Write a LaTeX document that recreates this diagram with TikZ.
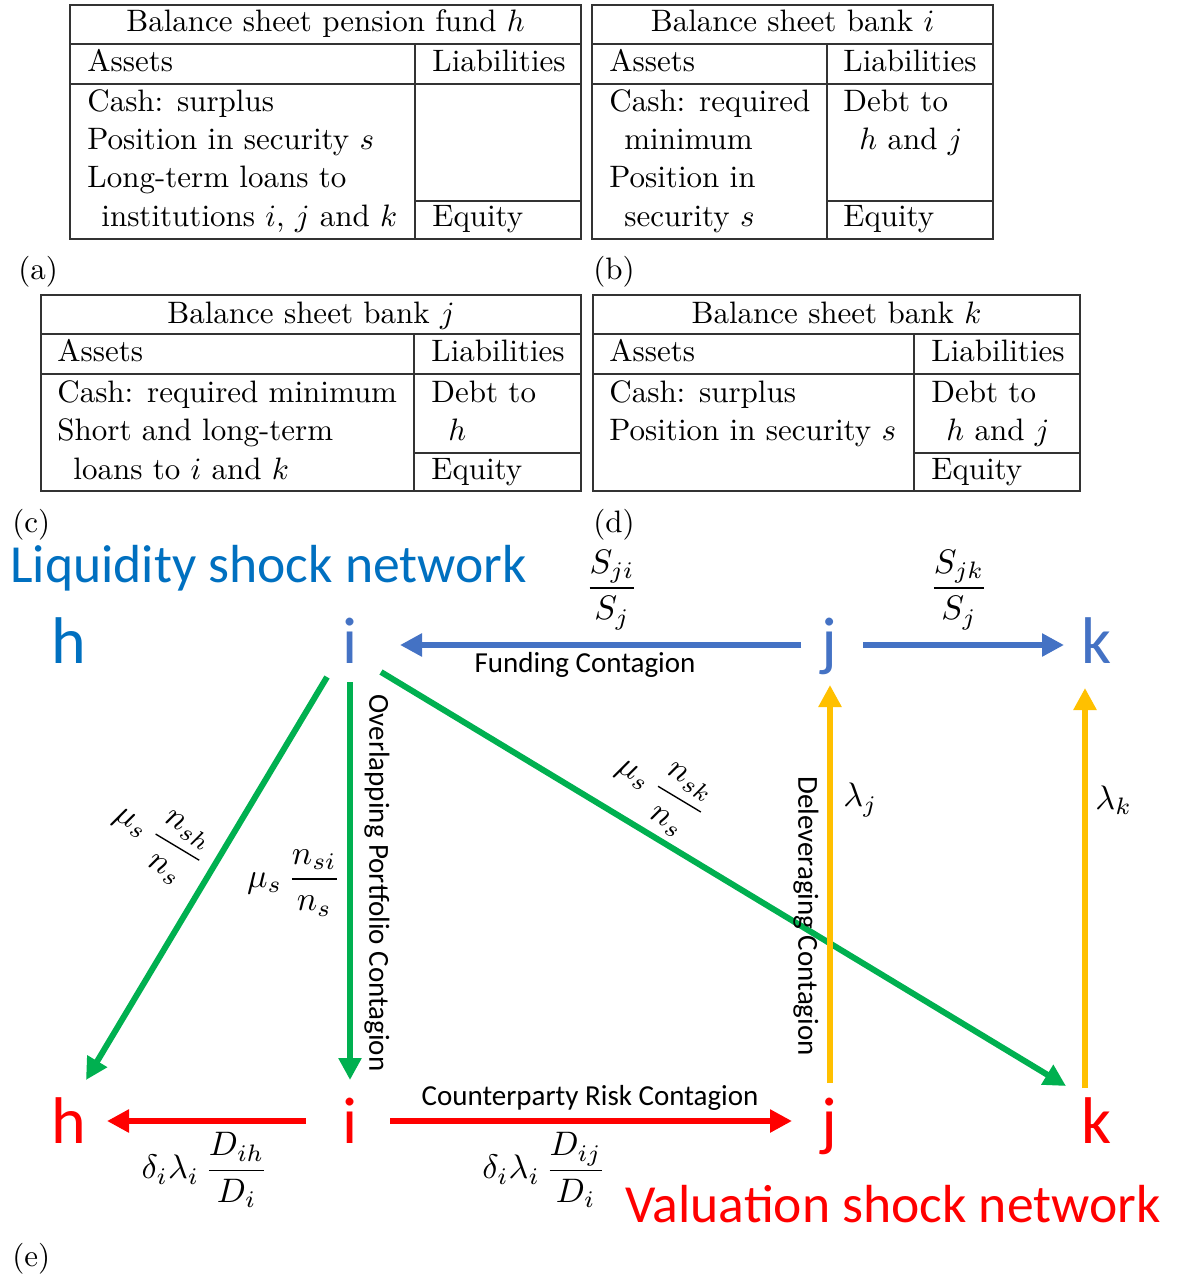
\documentclass[tikz,border=0pt]{standalone}
\usepackage{graphicx}
\usepackage{fontspec}
\newfontfamily\calfont{Carlito}
\usetikzlibrary{arrows.meta,calc}
\definecolor{lqblue}{HTML}{0070C0}
\definecolor{nodeblue}{HTML}{4472C4}
\definecolor{grn}{HTML}{00B050}
\definecolor{orng}{HTML}{FFC000}
\definecolor{rd}{HTML}{FF0000}
\newcommand{\tb}[1]{\scalebox{1.55}{#1}}
\newcommand{\mth}[1]{\scalebox{1.7}{$\displaystyle #1$}}
\newcommand{\bigletter}{\calfont\fontsize{33}{40}\selectfont}
\newcommand{\nettitle}{\calfont\fontsize{26.8}{32}\selectfont}
\newcommand{\edgefont}{\calfont\fontsize{14.5}{17}\selectfont}
\begin{document}
\begin{tikzpicture}[x=0.5pt,y=-0.5pt,
  tblline/.style={draw=black!80, line width=0.7pt},
  tt/.style={anchor=base west, inner sep=0pt, font=\normalsize},
  ttc/.style={anchor=base, inner sep=0pt, font=\normalsize},
  letter/.style={anchor=base, inner sep=0pt, font=\bigletter},
  arr/.style={line width=3pt, -{Triangle[length=11pt,width=11pt]}},
  edgetxt/.style={inner sep=0pt, font=\edgefont},
  mathlbl/.style={inner sep=0pt, font=\normalsize}]
\useasboundingbox (0,0) rectangle (1178,1278);

% ---------- Table (a)
\draw[tblline] (70,5) rectangle (581,239);
\draw[tblline] (70,44) -- (581,44) (70,84) -- (581,84) (415,44) -- (415,239) (415,201) -- (581,201);
\node[ttc] (aT) at (325.5,32) {\tb{Balance sheet pension fund $h$}};
\node[tt] (aA) at (87,72) {\tb{Assets}};
\node[tt] (aL) at (432,72) {\tb{Liabilities}};
\node[tt] (a1) at (87,112) {\tb{Cash: surplus}};
\node[tt] (a2) at (87,150) {\tb{Position in security $s$}};
\node[tt] (a3) at (87,188) {\tb{Long-term loans to}};
\node[tt] (a4) at (101,227) {\tb{institutions $i$, $j$ and $k$}};
\node[tt] (aE) at (432,227) {\tb{Equity}};
\node[tt] (la) at (18,280) {\tb{(a)}};

% ---------- Table (b)
\draw[tblline] (592,5) rectangle (993,239);
\draw[tblline] (592,44) -- (993,44) (592,84) -- (993,84) (827,44) -- (827,239) (827,201) -- (993,201);
\node[ttc] (bT) at (792.5,32) {\tb{Balance sheet bank $i$}};
\node[tt] (bA) at (609,72) {\tb{Assets}};
\node[tt] (bL) at (843,72) {\tb{Liabilities}};
\node[tt] (b1) at (609,112) {\tb{Cash: required}};
\node[tt] (b2) at (624,150) {\tb{minimum}};
\node[tt] (b3) at (609,188) {\tb{Position in}};
\node[tt] (b4) at (624,227) {\tb{security $s$}};
\node[tt] (b5) at (843,112) {\tb{Debt to}};
\node[tt] (b6) at (859,150) {\tb{$h$ and $j$}};
\node[tt] (bE) at (843,227) {\tb{Equity}};
\node[tt] (lb) at (593,280) {\tb{(b)}};

% ---------- Table (c)
\draw[tblline] (41,295) rectangle (581,491);
\draw[tblline] (41,334) -- (581,334) (41,374) -- (581,374) (414,334) -- (414,491) (414,453) -- (581,453);
\node[ttc] (cT) at (311,323) {\tb{Balance sheet bank $j$}};
\node[tt] (cA) at (57,362) {\tb{Assets}};
\node[tt] (cL) at (431,362) {\tb{Liabilities}};
\node[tt] (c1) at (57,402) {\tb{Cash: required minimum}};
\node[tt] (c2) at (57,440) {\tb{Short and long-term}};
\node[tt] (c3) at (73,479) {\tb{loans to $i$ and $k$}};
\node[tt] (c4) at (431,402) {\tb{Debt to}};
\node[tt] (c5) at (448,440) {\tb{$h$}};
\node[tt] (cE) at (431,479) {\tb{Equity}};
\node[tt] (lc) at (12,532) {\tb{(c)}};

% ---------- Table (d)
\draw[tblline] (593,295) rectangle (1080,491);
\draw[tblline] (593,334) -- (1080,334) (593,374) -- (1080,374) (914,334) -- (914,491) (914,453) -- (1080,453);
\node[ttc] (dT) at (836.5,323) {\tb{Balance sheet bank $k$}};
\node[tt] (dA) at (609,362) {\tb{Assets}};
\node[tt] (dL) at (931,362) {\tb{Liabilities}};
\node[tt] (d1) at (609,402) {\tb{Cash: surplus}};
\node[tt] (d2) at (609,440) {\tb{Position in security $s$}};
\node[tt] (d3) at (931,402) {\tb{Debt to}};
\node[tt] (d4) at (946,440) {\tb{$h$ and $j$}};
\node[tt] (dE) at (931,479) {\tb{Equity}};
\node[tt] (ld) at (593,532) {\tb{(d)}};

% ---------- Network
\node[anchor=base west, inner sep=0pt, font=\nettitle, text=lqblue] (liq) at (10,582) {Liquidity shock network};
\node[anchor=base west, inner sep=0pt, font=\nettitle, text=rd] (val) at (625,1222) {Valuation shock network};
\node[tt] (le) at (12,1266) {\tb{(e)}};

\node[letter, text=lqblue] (hT) at (69,663) {h};
\node[letter, text=nodeblue] (iT) at (350,663) {i};
\node[letter, text=nodeblue] (jT) at (829,663) {j};
\node[letter, text=nodeblue] (kT) at (1096,663) {k};
\node[letter, text=rd] (hB) at (69,1143) {h};
\node[letter, text=rd] (iB) at (350,1143) {i};
\node[letter, text=rd] (jB) at (829,1143) {j};
\node[letter, text=rd] (kB) at (1096,1143) {k};

% blue
\draw[arr, nodeblue] ($(jT.base)+(-28,-18)$) -- ($(iT.base)+(50,-18)$);
\draw[arr, nodeblue] ($(jT.base)+(34,-18)$) -- ($(kT.base)+(-32,-18)$);
% green
\draw[arr, grn] ($(iT.base)+(-23,14)$) -- ($(hB.base)+(17,-63)$);
\draw[arr, grn] ($(iT.base)+(0,19)$) -- ($(iB.base)+(0,-63)$);
\draw[arr, grn] ($(iT.base)+(31,9)$) -- ($(kB.base)+(-30,-57)$);
% orange
\draw[arr, orng] ($(jB.base)+(1,-60)$) -- ($(jT.base)+(1,22)$);
\draw[arr, orng] ($(kB.base)+(-11,-55)$) -- ($(kT.base)+(-11,25)$);
% red
\draw[arr, rd] ($(iB.base)+(-44,-22)$) -- ($(hB.base)+(38,-22)$);
\draw[arr, rd] ($(iB.base)+(40,-22)$) -- ($(jB.base)+(-37,-22)$);

% edge texts
\node[edgetxt, anchor=base] (fund) at (585,672) {Funding Contagion};
\node[edgetxt, anchor=base] (cpty) at (590,1105) {Counterparty Risk Contagion};
\node[edgetxt, rotate=-90] (ovl) at (377,883) {Overlapping Portfolio Contagion};
\node[edgetxt, rotate=-90] (dlv) at (806,916) {Deleveraging Contagion};

% math labels
\node[mathlbl] (sji) at (612,590) {\mth{\frac{S_{ji}}{S_j}}};
\node[mathlbl] (sjk) at (959,590) {\mth{\frac{S_{jk}}{S_j}}};
\node[mathlbl, rotate=-31] (nsh) at (158,840) {\mth{\mu_s\,\frac{n_{sh}}{n_s}}};
\node[mathlbl, anchor=east] (nsi) at (341,883) {\mth{\mu_s\,\frac{n_{si}}{n_s}}};
\node[mathlbl, rotate=-31] (nsk) at (660,792) {\mth{\mu_s\,\frac{n_{sk}}{n_s}}};
\node[mathlbl, anchor=west] (lj) at (843,800) {\mth{\lambda_j}};
\node[mathlbl, anchor=west] (lk) at (1095,800) {\mth{\lambda_k}};
\node[mathlbl] (dih) at (205,1170) {\mth{\delta_i\lambda_i\,\frac{D_{ih}}{D_i}}};
\node[mathlbl] (dij) at (544,1170) {\mth{\delta_i\lambda_i\,\frac{D_{ij}}{D_i}}};
\end{tikzpicture}
\end{document}
